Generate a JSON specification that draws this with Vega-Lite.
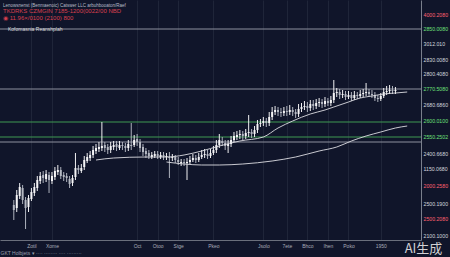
{
  "$schema": "https://vega.github.io/schema/vega-lite/v6.json",
  "width": 421,
  "height": 240,
  "autosize": {"type": "none"},
  "padding": {"left": 0, "top": 0, "right": 29, "bottom": 17},
  "background": "#10152a",
  "config": {"view": {"stroke": null}, "font": "Liberation Sans", "axis": {"labelOverlap": false, "labelFlush": false}},
  "title": {
    "text": "Lenowsnenst (Benmaenoic) Catswer LLC arbuhbooaton/Raef",
    "subtitle": ["TKDRKS  CZMGIN 7185-1200(0022/00 NBD", "◉ 11.96×/0100 (2100) 800"],
    "anchor": "start",
    "frame": "group",
    "offset": -21,
    "fontSize": 4.5,
    "fontWeight": "normal",
    "color": "#b8bcc8",
    "subtitleFontSize": 6,
    "subtitleColor": "#d8404f",
    "subtitlePadding": 1,
    "subtitleLineHeight": 7,
    "dx": 3
  },
  "datasets": {
    "candles": [
      {"i":0,"o":2150,"h":2200,"l":2000,"c":2100},{"i":1,"o":2120,"h":2300,"l":2080,"c":2250},{"i":2,"o":2240,"h":2370,"l":2210,"c":2330},{"i":3,"o":2320,"h":2350,"l":2160,"c":2200},{"i":4,"o":2200,"h":2230,"l":1910,"c":2120},{"i":5,"o":2130,"h":2250,"l":2080,"c":2220},{"i":6,"o":2210,"h":2320,"l":2190,"c":2280},{"i":7,"o":2270,"h":2370,"l":2240,"c":2330},{"i":8,"o":2320,"h":2440,"l":2290,"c":2400},{"i":9,"o":2390,"h":2480,"l":2360,"c":2440},
      {"i":10,"o":2450,"h":2490,"l":2370,"c":2420},{"i":11,"o":2410,"h":2500,"l":2380,"c":2460},{"i":12,"o":2450,"h":2480,"l":2270,"c":2400},{"i":13,"o":2390,"h":2480,"l":2360,"c":2440},{"i":14,"o":2430,"h":2530,"l":2400,"c":2490},{"i":15,"o":2480,"h":2550,"l":2450,"c":2500},{"i":16,"o":2500,"h":2530,"l":2410,"c":2440},{"i":17,"o":2450,"h":2480,"l":2390,"c":2430},{"i":18,"o":2440,"h":2470,"l":2380,"c":2420},{"i":19,"o":2410,"h":2440,"l":2320,"c":2360},
      {"i":20,"o":2370,"h":2450,"l":2340,"c":2420},{"i":21,"o":2430,"h":2670,"l":2400,"c":2520},{"i":22,"o":2520,"h":2550,"l":2460,"c":2500},{"i":23,"o":2490,"h":2560,"l":2470,"c":2520},{"i":24,"o":2530,"h":2640,"l":2500,"c":2600},{"i":25,"o":2590,"h":2670,"l":2570,"c":2630},{"i":26,"o":2620,"h":2690,"l":2590,"c":2650},{"i":27,"o":2650,"h":2740,"l":2620,"c":2700},{"i":28,"o":2690,"h":2760,"l":2660,"c":2720},{"i":29,"o":2710,"h":2780,"l":2680,"c":2730},
      {"i":30,"o":2720,"h":2980,"l":2690,"c":2740},{"i":31,"o":2750,"h":2780,"l":2680,"c":2720},{"i":32,"o":2730,"h":2760,"l":2660,"c":2700},{"i":33,"o":2700,"h":2780,"l":2670,"c":2740},{"i":34,"o":2730,"h":2790,"l":2700,"c":2750},{"i":35,"o":2760,"h":2790,"l":2690,"c":2730},{"i":36,"o":2720,"h":2790,"l":2700,"c":2750},{"i":37,"o":2750,"h":2780,"l":2700,"c":2740},{"i":38,"o":2740,"h":2770,"l":2680,"c":2720},{"i":39,"o":2720,"h":2800,"l":2690,"c":2760},
      {"i":40,"o":2750,"h":2970,"l":2700,"c":2740},{"i":41,"o":2750,"h":2850,"l":2730,"c":2800},{"i":42,"o":2810,"h":2860,"l":2740,"c":2780},{"i":43,"o":2780,"h":2810,"l":2680,"c":2720},{"i":44,"o":2730,"h":2760,"l":2640,"c":2680},{"i":45,"o":2690,"h":2720,"l":2620,"c":2660},{"i":46,"o":2670,"h":2700,"l":2610,"c":2640},{"i":47,"o":2630,"h":2680,"l":2610,"c":2650},{"i":48,"o":2640,"h":2690,"l":2620,"c":2660},{"i":49,"o":2660,"h":2690,"l":2610,"c":2640},
      {"i":50,"o":2630,"h":2680,"l":2610,"c":2650},{"i":51,"o":2650,"h":2680,"l":2600,"c":2630},{"i":52,"o":2630,"h":2670,"l":2600,"c":2640},{"i":53,"o":2630,"h":2680,"l":2420,"c":2620},{"i":54,"o":2620,"h":2660,"l":2590,"c":2630},{"i":55,"o":2630,"h":2650,"l":2570,"c":2600},{"i":56,"o":2600,"h":2630,"l":2550,"c":2580},{"i":57,"o":2570,"h":2610,"l":2540,"c":2580},{"i":58,"o":2580,"h":2610,"l":2540,"c":2570},{"i":59,"o":2570,"h":2620,"l":2400,"c":2580},
      {"i":60,"o":2580,"h":2640,"l":2560,"c":2600},{"i":61,"o":2600,"h":2660,"l":2580,"c":2620},{"i":62,"o":2620,"h":2650,"l":2570,"c":2600},{"i":63,"o":2600,"h":2670,"l":2580,"c":2630},{"i":64,"o":2630,"h":2700,"l":2610,"c":2650},{"i":65,"o":2650,"h":2710,"l":2620,"c":2660},{"i":66,"o":2660,"h":2700,"l":2610,"c":2640},{"i":67,"o":2640,"h":2710,"l":2620,"c":2670},{"i":68,"o":2670,"h":2740,"l":2650,"c":2700},{"i":69,"o":2700,"h":2800,"l":2670,"c":2750},
      {"i":70,"o":2750,"h":2860,"l":2720,"c":2800},{"i":71,"o":2790,"h":2830,"l":2740,"c":2770},{"i":72,"o":2770,"h":2800,"l":2700,"c":2740},{"i":73,"o":2740,"h":2800,"l":2670,"c":2760},{"i":74,"o":2760,"h":2840,"l":2730,"c":2800},{"i":75,"o":2800,"h":2880,"l":2780,"c":2840},{"i":76,"o":2830,"h":2890,"l":2800,"c":2850},{"i":77,"o":2850,"h":2900,"l":2810,"c":2860},{"i":78,"o":2860,"h":2890,"l":2800,"c":2840},{"i":79,"o":2840,"h":2910,"l":2810,"c":2870},
      {"i":80,"o":2870,"h":3050,"l":2830,"c":2880},{"i":81,"o":2880,"h":2910,"l":2820,"c":2860},{"i":82,"o":2860,"h":2940,"l":2830,"c":2900},{"i":83,"o":2900,"h":3000,"l":2870,"c":2960},{"i":84,"o":2960,"h":3010,"l":2930,"c":2970},{"i":85,"o":2970,"h":3030,"l":2940,"c":2990},{"i":86,"o":2990,"h":3020,"l":2930,"c":2970},{"i":87,"o":2970,"h":3080,"l":2940,"c":3030},{"i":88,"o":3030,"h":3130,"l":3000,"c":3080},{"i":89,"o":3080,"h":3140,"l":3050,"c":3100},
      {"i":90,"o":3100,"h":3130,"l":3040,"c":3080},{"i":91,"o":3080,"h":3120,"l":3030,"c":3070},{"i":92,"o":3070,"h":3130,"l":3040,"c":3090},{"i":93,"o":3090,"h":3140,"l":3040,"c":3080},{"i":94,"o":3080,"h":3150,"l":3050,"c":3100},{"i":95,"o":3100,"h":3130,"l":3040,"c":3080},{"i":96,"o":3080,"h":3110,"l":3020,"c":3060},{"i":97,"o":3060,"h":3160,"l":3030,"c":3110},{"i":98,"o":3110,"h":3170,"l":3080,"c":3130},{"i":99,"o":3130,"h":3190,"l":3100,"c":3140},
      {"i":100,"o":3140,"h":3180,"l":3080,"c":3120},{"i":101,"o":3120,"h":3200,"l":3090,"c":3160},{"i":102,"o":3160,"h":3200,"l":3100,"c":3140},{"i":103,"o":3140,"h":3210,"l":3110,"c":3170},{"i":104,"o":3170,"h":3220,"l":3130,"c":3180},{"i":105,"o":3180,"h":3210,"l":3120,"c":3160},{"i":106,"o":3160,"h":3230,"l":3130,"c":3190},{"i":107,"o":3190,"h":3220,"l":3140,"c":3170},{"i":108,"o":3170,"h":3240,"l":3140,"c":3200},{"i":109,"o":3200,"h":3400,"l":3170,"c":3270},
      {"i":110,"o":3270,"h":3320,"l":3230,"c":3280},{"i":111,"o":3280,"h":3310,"l":3210,"c":3250},{"i":112,"o":3250,"h":3300,"l":3220,"c":3260},{"i":113,"o":3260,"h":3290,"l":3200,"c":3230},{"i":114,"o":3230,"h":3290,"l":3210,"c":3250},{"i":115,"o":3250,"h":3280,"l":3190,"c":3220},{"i":116,"o":3220,"h":3290,"l":3200,"c":3250},{"i":117,"o":3250,"h":3280,"l":3210,"c":3240},{"i":118,"o":3240,"h":3300,"l":3220,"c":3260},{"i":119,"o":3260,"h":3310,"l":3230,"c":3270},
      {"i":120,"o":3270,"h":3370,"l":3240,"c":3280},{"i":121,"o":3280,"h":3310,"l":3230,"c":3260},{"i":122,"o":3260,"h":3300,"l":3220,"c":3250},{"i":123,"o":3250,"h":3280,"l":3190,"c":3220},{"i":124,"o":3220,"h":3250,"l":3180,"c":3210},{"i":125,"o":3210,"h":3270,"l":3190,"c":3240},{"i":126,"o":3240,"h":3320,"l":3220,"c":3280},{"i":127,"o":3280,"h":3340,"l":3250,"c":3290},{"i":128,"o":3290,"h":3350,"l":3260,"c":3300},{"i":129,"o":3300,"h":3340,"l":3260,"c":3290},
      {"i":130,"o":3290,"h":3330,"l":3260,"c":3300}
    ],
    "ma": [
      {"i":28,"v":2600,"s":"MA1"},{"i":34,"v":2620,"s":"MA1"},{"i":45,"v":2630,"s":"MA1"},{"i":52,"v":2630,"s":"MA1"},{"i":58,"v":2650,"s":"MA1"},{"i":64,"v":2690,"s":"MA1"},{"i":70,"v":2740,"s":"MA1"},{"i":77,"v":2790,"s":"MA1"},{"i":85,"v":2830,"s":"MA1"},{"i":90,"v":2920,"s":"MA1"},{"i":95,"v":2990,"s":"MA1"},{"i":101,"v":3060,"s":"MA1"},{"i":106,"v":3100,"s":"MA1"},{"i":109,"v":3130,"s":"MA1"},{"i":114,"v":3180,"s":"MA1"},{"i":118,"v":3220,"s":"MA1"},{"i":122,"v":3240,"s":"MA1"},{"i":126,"v":3260,"s":"MA1"},{"i":130,"v":3270,"s":"MA1"},{"i":134,"v":3280,"s":"MA1"},
      {"i":52,"v":2580,"s":"MA2"},{"i":58,"v":2560,"s":"MA2"},{"i":64,"v":2550,"s":"MA2"},{"i":70,"v":2550,"s":"MA2"},{"i":78,"v":2560,"s":"MA2"},{"i":88,"v":2590,"s":"MA2"},{"i":96,"v":2630,"s":"MA2"},{"i":104,"v":2690,"s":"MA2"},{"i":110,"v":2730,"s":"MA2"},{"i":115,"v":2790,"s":"MA2"},{"i":120,"v":2840,"s":"MA2"},{"i":125,"v":2880,"s":"MA2"},{"i":130,"v":2920,"s":"MA2"},{"i":134,"v":2940,"s":"MA2"}
    ],
    "levels": [
      {"p":3910,"kind":"resistance","name":"Kofomasnia Reanshplah"},
      {"p":3310,"kind":"resistance","name":""},
      {"p":2980,"kind":"support","name":""},
      {"p":2830,"kind":"support","name":""},
      {"p":2780,"kind":"resistance","name":""}
    ]
  },
  "layer": [
    {
      "data": {"name": "levels"},
      "mark": {"type": "rule", "strokeWidth": 1},
      "encoding": {
        "y": {"field": "p", "type": "quantitative", "scale": {"domain": [1800, 4200], "nice": false, "zero": false},
          "axis": {
            "orient": "right",
            "values": [4060,3920,3770,3610,3470,3320,3160,3000,2840,2670,2520,2350,2170,2020,1850],
            "tickCount": 40,
            "labelExpr": "{'4060':'4000.2080','3920':'2850.0080','3770':'3012.010','3610':'2830.0080','3470':'2800.4080','3320':'2770.5080','3160':'2680.6860','3000':'2600.0100','2840':'2550.2502','2670':'2400.6680','2520':'1150.0680','2350':'2000.2580','2170':'2500.1900','2020':'2500.2080','1850':'2100.1000'}[datum.value]",
            "labelColor": {"condition": [
              {"test": "indexof([4060,2350,2020], datum.value) >= 0", "value": "#ff6070"},
              {"test": "indexof([3920,3320,3000,2840], datum.value) >= 0", "value": "#6ee07a"}
            ], "value": "#d4d7de"},
            "labelFontSize": 5.2,
            "labelPadding": 2,
            "labelOverlap": false,
            "labelBound": false,
            "ticks": false,
            "grid": false,
            "domainColor": "#7a7f8c",
            "domainWidth": 1,
            "title": "AI生成",
            "titleAngle": 0,
            "titleAlign": "center",
            "titleBaseline": "middle",
            "titleX": 2,
            "titleY": 248,
            "titleFontSize": 13,
            "titleFontWeight": "normal",
            "titleFont": "Noto Sans CJK SC",
            "titleColor": "#d0d0d4"
          }
        },
        "color": {"field": "kind", "type": "nominal", "scale": {"domain": ["resistance", "support"], "range": ["#8d919e", "#3f9a52"]}, "legend": null}
      }
    },
    {
      "data": {"name": "candles"},
      "mark": {"type": "rule", "strokeWidth": 1},
      "encoding": {
        "x": {"field": "i", "type": "quantitative", "scale": {"domain": [-3, 137], "nice": false, "zero": false},
          "axis": {
            "values": [6,13,42,49,56,68,85,93,100,107,114,125],
            "tickCount": 40,
            "labelExpr": "{'6':'Zotil','13':'Xome','42':'Oct','49':'Otoo','56':'Stge','68':'Pkeo','85':'Jsolo','93':'7ete','100':'Bhco','107':'Ihen','114':'Poko','125':'1950'}[datum.value]",
            "labelColor": "#a8acb8",
            "labelFontSize": 5,
            "labelPadding": 3,
            "labelOverlap": false,
            "ticks": false,
            "grid": true,
            "gridColor": "#1f2539",
            "gridWidth": 1,
            "domainColor": "#6a6f7c",
            "title": "GKT Holbjets ▾  ···· ········ ···· ·········",
            "titleAnchor": "start",
            "titleFontSize": 5,
            "titleFontWeight": "normal",
            "titleColor": "#9aa0ae",
            "titlePadding": 2
          }
        },
        "y": {"field": "l", "type": "quantitative", "scale": {"domain": [1800, 4200], "nice": false, "zero": false}},
        "y2": {"field": "h"},
        "color": {"condition": {"test": "datum.c >= datum.o", "value": "#f0f0f2"}, "value": "#aeb2bd"}
      }
    },
    {
      "data": {"name": "candles"},
      "mark": {"type": "bar", "size": 2},
      "encoding": {
        "x": {"field": "i", "type": "quantitative", "scale": {"domain": [-3, 137], "nice": false, "zero": false}},
        "y": {"field": "o", "type": "quantitative", "scale": {"domain": [1800, 4200], "nice": false, "zero": false}},
        "y2": {"field": "c"},
        "color": {"condition": {"test": "datum.c >= datum.o", "value": "#f4f4f6"}, "value": "#b4b8c2"}
      }
    },
    {
      "data": {"name": "ma"},
      "mark": {"type": "line", "strokeWidth": 0.9, "interpolate": "monotone", "color": "#dcdce2"},
      "encoding": {
        "x": {"field": "i", "type": "quantitative", "scale": {"domain": [-3, 137], "nice": false, "zero": false}},
        "y": {"field": "v", "type": "quantitative", "scale": {"domain": [1800, 4200], "nice": false, "zero": false}},
        "detail": {"field": "s", "type": "nominal"}
      }
    },
    {
      "data": {"name": "levels"},
      "transform": [{"filter": "datum.name != ''"}],
      "mark": {"type": "text", "align": "left", "baseline": "middle", "fontSize": 5, "color": "#d8d8dc", "dx": 3},
      "encoding": {
        "x": {"datum": -3, "type": "quantitative", "scale": {"domain": [-3, 137], "nice": false, "zero": false}},
        "y": {"field": "p", "type": "quantitative", "scale": {"domain": [1800, 4200], "nice": false, "zero": false}},
        "text": {"field": "name"}
      }
    }
  ]
}
